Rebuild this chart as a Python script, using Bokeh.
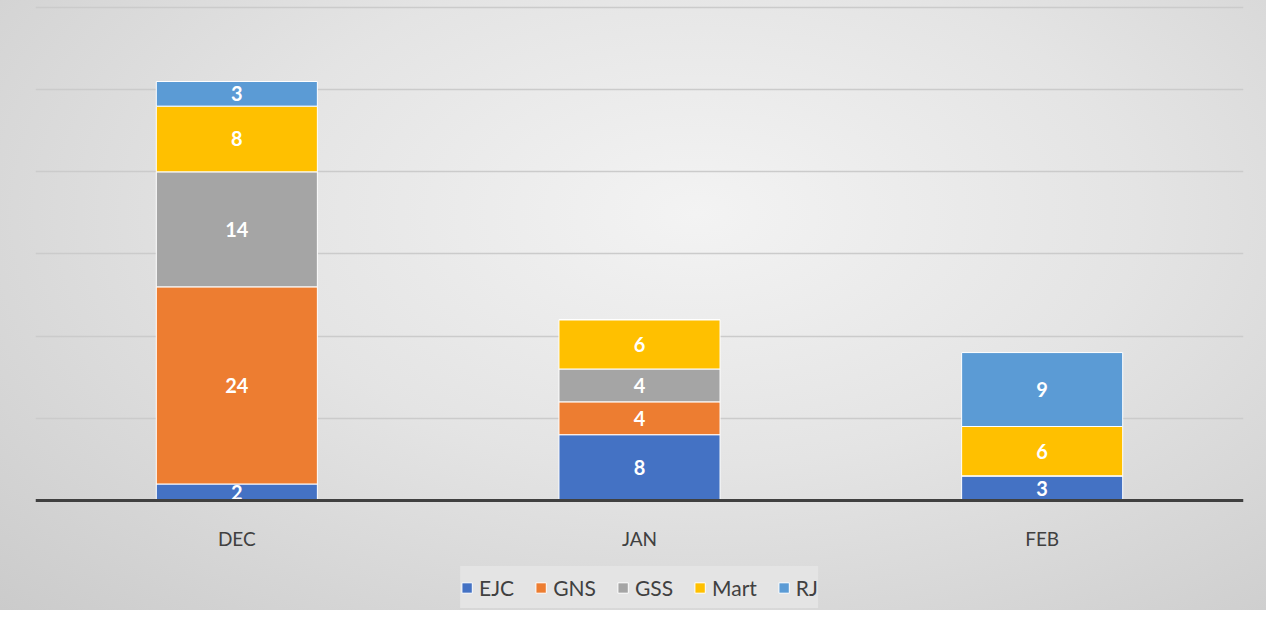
from bokeh.plotting import figure
from bokeh.models import ColumnDataSource, FixedTicker, Legend, LegendItem
from bokeh.core.properties import value
from bokeh.embed import file_html
from bokeh.resources import INLINE

months = ["DEC", "JAN", "FEB"]
series = ["EJC", "GNS", "GSS", "Mart", "RJ"]
EJC = [2, 8, 3]
GNS = [24, 4, 0]
GSS = [14, 4, 0]
Mart = [8, 6, 6]
RJ = [3, 0, 9]
colors = ["#4472C4", "#ED7D31", "#A5A5A5", "#FFC000", "#5B9BD5"]
grid_ticks = [10, 20, 30, 40, 50, 60]

data = {"month": months, "EJC": EJC, "GNS": GNS, "GSS": GSS, "Mart": Mart, "RJ": RJ}
source = ColumnDataSource(data)

p = figure(x_range=months, y_range=(-13.4, 60.25), width=1266, height=610,
           output_backend="svg", toolbar_location=None,
           min_border_left=35, min_border_right=23, min_border_top=5, min_border_bottom=0)
p.x_range.range_padding = 0
p.border_fill_alpha = 0
p.background_fill_alpha = 0
p.outline_line_color = None
p.styles = {"background": "radial-gradient(ellipse at 55% 35%, #f3f3f3 0%, #e4e4e4 45%, #cbcbcb 100%)"}

renderers = p.vbar_stack(series, x="month", width=0.4, source=source, color=colors,
                         line_color="white", line_width=1)

# data labels
lx, ly, lt = [], [], []
for i, m in enumerate(months):
    base = 0
    for s in series:
        v = data[s][i]
        if v > 0:
            lx.append(m)
            ly.append(base + v / 2)
            lt.append(str(v))
        base += v
p.text(x=lx, y=ly, text=lt, text_color="white", text_font=value("Lato"),
       text_font_style="bold", text_font_size="20px", text_align="center",
       text_baseline="middle")

p.yaxis.visible = False
p.ygrid.ticker = FixedTicker(ticks=grid_ticks)
p.ygrid.grid_line_color = "#cbcbcb"
p.ygrid.grid_line_width = 1.5
p.xgrid.grid_line_color = None

ax = p.xaxis[0]
ax.fixed_location = 0
ax.axis_line_color = "#404040"
ax.axis_line_width = 3
ax.major_tick_line_color = None
ax.minor_tick_line_color = None
ax.major_label_text_font = "Lato"
ax.major_label_text_font_size = "19px"
ax.major_label_text_color = "#404040"
ax.major_label_standoff = 21

legend = Legend(items=[LegendItem(label=s, renderers=[r]) for s, r in zip(series, renderers)],
                orientation="horizontal", location="bottom_center")
legend.label_text_font = "Lato"
legend.label_text_font_size = "21px"
legend.label_text_color = "#404040"
legend.glyph_width = 13
legend.glyph_height = 13
legend.label_height = 42
legend.label_standoff = 6
legend.spacing = 20
legend.padding = 16
legend.margin = 2
legend.background_fill_color = "#e4e4e4"
legend.background_fill_alpha = 1
legend.border_line_color = None
p.add_layout(legend, "center")

open("out.html", "w").write(file_html(p, INLINE))
